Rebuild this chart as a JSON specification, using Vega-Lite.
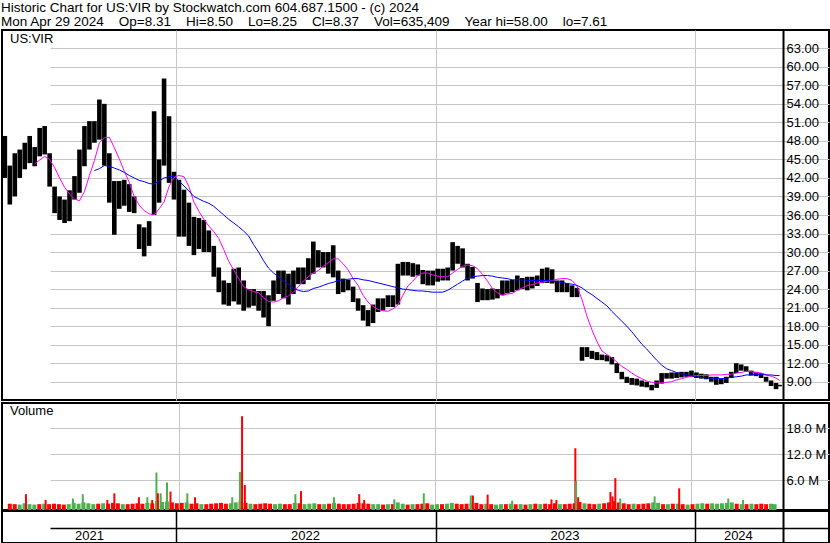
{
  "$schema": "https://vega.github.io/schema/vega-lite/v6.json",
  "background": "white",
  "padding": {"left": 1, "top": 1, "right": 1, "bottom": 0},
  "title": {
    "text": ["Historic Chart for US:VIR by Stockwatch.com 604.687.1500 - (c) 2024", "Mon Apr 29 2024\u00a0\u00a0\u00a0\u00a0Op=8.31\u00a0\u00a0\u00a0\u00a0Hi=8.50\u00a0\u00a0\u00a0\u00a0Lo=8.25\u00a0\u00a0\u00a0\u00a0Cl=8.37\u00a0\u00a0\u00a0\u00a0Vol=635,409\u00a0\u00a0\u00a0\u00a0Year hi=58.00\u00a0\u00a0\u00a0\u00a0lo=7.61"],
    "anchor": "start", "frame": "bounds", "font": "Liberation Sans", "fontSize": 13.5, "fontWeight": "normal", "lineHeight": 13.5, "offset": 1, "color": "#000"
  },
  "config": {
    "view": {"stroke": "#000", "strokeWidth": 2},
    "font": "Liberation Sans",
    "axis": {"labelFont": "Liberation Sans", "labelFontSize": 13, "labelColor": "#000", "gridColor": "#c6c6c6", "gridWidth": 1, "title": null, "labelOverlap": false},
    "title": {"font": "Liberation Sans", "fontWeight": "normal", "color": "#000"}
  },
  "datasets": {
    "px": [
      {"d":"2021-05-05","h":48.8,"l":42,"v":0.6,"s":"d"},
      {"d":"2021-05-12","h":44,"l":37.7,"v":0.5,"s":"d"},
      {"d":"2021-05-19","h":46,"l":39,"v":0.4,"s":"u"},
      {"d":"2021-05-26","h":46.6,"l":42,"v":0.7,"s":"u"},
      {"d":"2021-06-02","h":47.7,"l":43.4,"v":0.5,"s":"u"},
      {"d":"2021-06-09","h":48.8,"l":44.4,"v":0.4,"s":"u"},
      {"d":"2021-06-16","h":47,"l":43.9,"m":44.3,"v":0.5,"s":"d"},
      {"d":"2021-06-23","h":50.1,"l":45.5,"m":44.9,"v":0.6,"s":"u"},
      {"d":"2021-06-30","h":50.4,"l":45.8,"m":45.5,"v":0.5,"s":"d"},
      {"d":"2021-07-07","h":46,"l":40.6,"m":45.0,"v":0.6,"s":"d"},
      {"d":"2021-07-14","h":40.6,"l":36.3,"m":43.7,"v":0.5,"s":"d"},
      {"d":"2021-07-21","h":39,"l":35.2,"m":42.0,"v":0.4,"s":"d"},
      {"d":"2021-07-28","h":38.5,"l":34.7,"m":40.5,"v":0.5,"s":"u"},
      {"d":"2021-08-04","h":40,"l":35,"m":39.4,"v":0.8,"s":"u"},
      {"d":"2021-08-11","h":42.3,"l":38.5,"m":38.6,"v":0.6,"s":"u"},
      {"d":"2021-08-18","h":46.6,"l":39.6,"m":38.3,"v":0.9,"s":"u"},
      {"d":"2021-08-25","h":50.4,"l":43.9,"m":39.8,"v":0.7,"s":"u"},
      {"d":"2021-09-01","h":51.2,"l":46.6,"m":42.4,"v":0.5,"s":"u"},
      {"d":"2021-09-08","h":51.2,"l":47.7,"m":44.8,"b":43.2,"v":0.6,"s":"d"},
      {"d":"2021-09-15","h":54.7,"l":48.2,"m":47.7,"b":43.5,"v":0.7,"s":"u"},
      {"d":"2021-09-22","h":54,"l":44,"m":48.5,"b":44,"v":0.6,"s":"d"},
      {"d":"2021-09-29","h":46,"l":38,"m":48.6,"b":43.9,"v":0.8,"s":"d"},
      {"d":"2021-10-06","h":41.5,"l":32.8,"m":46.9,"b":43.6,"v":0.7,"s":"d"},
      {"d":"2021-10-13","h":41.5,"l":37,"m":45.1,"b":43.3,"v":0.5,"s":"u"},
      {"d":"2021-10-20","h":41.7,"l":37.5,"m":43.1,"b":42.9,"v":0.5,"s":"d"},
      {"d":"2021-10-27","h":41,"l":36.5,"m":41.3,"b":42.4,"v":0.6,"s":"d"},
      {"d":"2021-11-03","h":39,"l":36.3,"m":39,"b":42,"v":0.7,"s":"d"},
      {"d":"2021-11-10","h":34.5,"l":30.5,"m":37.6,"b":41.6,"v":0.6,"s":"d"},
      {"d":"2021-11-17","h":34,"l":29.3,"m":36.7,"b":41.4,"v":0.8,"s":"u"},
      {"d":"2021-11-24","h":35,"l":31,"m":36.2,"b":41.1,"v":0.7,"s":"d"},
      {"d":"2021-12-01","h":52.8,"l":36,"m":36.0,"b":41.0,"v":1.2,"s":"u"},
      {"d":"2021-12-08","h":45,"l":38,"m":37.0,"b":41.5,"v":1.0,"s":"u"},
      {"d":"2021-12-15","h":58.1,"l":44,"m":38.1,"b":42,"v":1.1,"s":"u"},
      {"d":"2021-12-22","h":52,"l":41.2,"m":40.6,"b":42.2,"v":0.9,"s":"d"},
      {"d":"2021-12-29","h":43,"l":38.5,"m":42.1,"b":42.3,"v":0.7,"s":"d"},
      {"d":"2022-01-05","h":41.7,"l":32.5,"m":42.4,"b":41.5,"v":0.8,"s":"d"},
      {"d":"2022-01-12","h":40.1,"l":32.5,"m":42.2,"b":40.7,"v":0.9,"s":"u"},
      {"d":"2022-01-19","h":38,"l":31,"m":40.6,"b":39.9,"v":0.6,"s":"d"},
      {"d":"2022-01-26","h":35.7,"l":29.5,"m":38.1,"b":39.0,"v":0.7,"s":"d"},
      {"d":"2022-02-02","h":35.5,"l":30.5,"m":36.6,"b":38.6,"v":0.5,"s":"u"},
      {"d":"2022-02-09","h":35.2,"l":30,"m":35.3,"b":38.2,"v":0.5,"s":"d"},
      {"d":"2022-02-16","h":33.5,"l":30,"m":34.2,"b":37.9,"v":0.6,"s":"d"},
      {"d":"2022-02-23","h":31,"l":26,"m":33.3,"b":37.4,"v":0.7,"s":"d"},
      {"d":"2022-03-02","h":27.5,"l":23.5,"m":32.2,"b":36.7,"v":0.8,"s":"d"},
      {"d":"2022-03-09","h":25.4,"l":21.5,"m":30.4,"b":36.0,"v":0.6,"s":"d"},
      {"d":"2022-03-16","h":25,"l":21.3,"m":28.5,"b":35.3,"v":0.7,"s":"u"},
      {"d":"2022-03-23","h":27.3,"l":22,"m":27.1,"b":34.7,"v":0.9,"s":"u"},
      {"d":"2022-03-30","h":27.5,"l":21.5,"m":25.7,"b":34.1,"v":1.2,"s":"d"},
      {"d":"2022-04-06","h":25.4,"l":20.5,"m":24.4,"b":33.4,"v":0.8,"s":"d"},
      {"d":"2022-04-13","h":24,"l":21,"m":23.9,"b":32.6,"v":0.6,"s":"u"},
      {"d":"2022-04-20","h":24,"l":21.3,"m":23.6,"b":31.2,"v":0.5,"s":"d"},
      {"d":"2022-04-27","h":23.7,"l":20.5,"m":23.4,"b":30.0,"v":0.6,"s":"d"},
      {"d":"2022-05-04","h":23.7,"l":19.4,"m":22.6,"b":28.6,"v":0.7,"s":"d"},
      {"d":"2022-05-11","h":23,"l":18,"m":22.0,"b":27.4,"v":0.6,"s":"d"},
      {"d":"2022-05-18","h":25.4,"l":22.1,"m":21.9,"b":26.6,"v":0.5,"s":"u"},
      {"d":"2022-05-25","h":27,"l":23.2,"m":22.1,"b":26.0,"v":0.6,"s":"u"},
      {"d":"2022-06-01","h":27,"l":22.5,"m":22.6,"b":25.3,"v":0.5,"s":"d"},
      {"d":"2022-06-08","h":26.5,"l":21.5,"m":22.9,"b":24.8,"v":0.5,"s":"d"},
      {"d":"2022-06-15","h":27,"l":23.2,"m":23.5,"b":24.1,"v":0.8,"s":"u"},
      {"d":"2022-06-22","h":27.5,"l":24.8,"m":24.4,"b":23.8,"v":0.7,"s":"d"},
      {"d":"2022-06-29","h":27.5,"l":24.8,"m":25.3,"b":23.6,"v":0.5,"s":"u"},
      {"d":"2022-07-06","h":29,"l":25.5,"m":26.0,"b":23.7,"v":0.6,"s":"u"},
      {"d":"2022-07-13","h":31.7,"l":26.5,"m":26.6,"b":24.1,"v":0.7,"s":"u"},
      {"d":"2022-07-20","h":30.3,"l":27.5,"m":27.0,"b":24.3,"v":0.5,"s":"d"},
      {"d":"2022-07-27","h":30,"l":27.5,"m":27.7,"b":24.6,"v":0.5,"s":"u"},
      {"d":"2022-08-03","h":30,"l":26.5,"m":28.3,"b":24.9,"v":0.6,"s":"d"},
      {"d":"2022-08-10","h":31.1,"l":25.9,"m":28.9,"b":25.1,"v":0.8,"s":"u"},
      {"d":"2022-08-17","h":27,"l":23.2,"m":28.9,"b":25.4,"v":0.6,"s":"d"},
      {"d":"2022-08-24","h":25.7,"l":23.5,"m":28.1,"b":25.5,"v":0.5,"s":"d"},
      {"d":"2022-08-31","h":25.5,"l":23.8,"m":27.1,"b":25.6,"v":0.5,"s":"d"},
      {"d":"2022-09-07","h":24.4,"l":21.9,"m":25.7,"b":25.7,"v":0.6,"s":"d"},
      {"d":"2022-09-14","h":22.5,"l":20.5,"m":24.6,"b":25.7,"v":0.8,"s":"d"},
      {"d":"2022-09-21","h":21.4,"l":18.9,"m":23.0,"b":25.5,"v":0.7,"s":"d"},
      {"d":"2022-09-28","h":20.6,"l":18,"m":21.9,"b":25.4,"v":0.6,"s":"d"},
      {"d":"2022-10-05","h":21.5,"l":18.5,"m":21.2,"b":25.2,"v":0.5,"s":"u"},
      {"d":"2022-10-12","h":22.5,"l":20.3,"m":20.7,"b":25.0,"v":0.5,"s":"u"},
      {"d":"2022-10-19","h":22.5,"l":20.5,"m":20.5,"b":24.8,"v":0.4,"s":"d"},
      {"d":"2022-10-26","h":23,"l":21.1,"m":20.4,"b":24.6,"v":0.5,"s":"u"},
      {"d":"2022-11-02","h":23,"l":21.1,"m":20.8,"b":24.4,"v":0.5,"s":"d"},
      {"d":"2022-11-09","h":28.1,"l":21.5,"m":21.4,"b":24.2,"v":0.9,"s":"u"},
      {"d":"2022-11-16","h":28.4,"l":26.2,"m":23.0,"b":24.0,"v":0.6,"s":"u"},
      {"d":"2022-11-23","h":28.4,"l":26.2,"m":24.5,"b":23.9,"v":0.4,"s":"d"},
      {"d":"2022-11-30","h":28.2,"l":26,"m":25.3,"b":23.8,"v":0.5,"s":"u"},
      {"d":"2022-12-07","h":28,"l":26.2,"m":26.2,"b":23.7,"v":0.5,"s":"d"},
      {"d":"2022-12-14","h":27.1,"l":24.8,"m":26.6,"b":23.7,"v":0.6,"s":"d"},
      {"d":"2022-12-21","h":27,"l":24.6,"m":26.6,"b":23.6,"v":0.7,"s":"d"},
      {"d":"2022-12-28","h":27,"l":24.6,"m":26.3,"b":23.5,"v":0.4,"s":"u"},
      {"d":"2023-01-04","h":27.3,"l":25.2,"m":26.1,"b":23.5,"v":0.5,"s":"u"},
      {"d":"2023-01-11","h":27.3,"l":25.4,"m":26.0,"b":23.5,"v":0.5,"s":"d"},
      {"d":"2023-01-18","h":27.5,"l":25.4,"m":26.0,"b":23.8,"v":0.6,"s":"u"},
      {"d":"2023-01-25","h":31.6,"l":27,"m":26.6,"b":24.3,"v":0.8,"s":"u"},
      {"d":"2023-02-01","h":31,"l":28.1,"m":27.2,"b":24.8,"v":0.6,"s":"d"},
      {"d":"2023-02-08","h":30.6,"l":27.5,"m":27.7,"b":25.3,"v":0.5,"s":"d"},
      {"d":"2023-02-15","h":28.1,"l":25.4,"m":27.9,"b":25.8,"v":0.6,"s":"d"},
      {"d":"2023-02-22","h":27.6,"l":25.7,"m":27.8,"b":26.0,"v":0.7,"s":"u"},
      {"d":"2023-03-01","h":25,"l":21.9,"m":27.3,"b":26.1,"v":0.8,"s":"d"},
      {"d":"2023-03-08","h":24.1,"l":22.2,"m":26.4,"b":26.2,"v":0.5,"s":"d"},
      {"d":"2023-03-15","h":24,"l":22.2,"m":25.3,"b":26.2,"v":0.6,"s":"u"},
      {"d":"2023-03-22","h":24.1,"l":22.3,"m":24.1,"b":26.1,"v":0.5,"s":"d"},
      {"d":"2023-03-29","h":24,"l":22.5,"m":23.4,"b":25.9,"v":0.4,"s":"u"},
      {"d":"2023-04-05","h":25.4,"l":23,"m":23.0,"b":25.8,"v":0.5,"s":"u"},
      {"d":"2023-04-12","h":25.4,"l":23.3,"m":23.2,"b":25.7,"v":0.5,"s":"d"},
      {"d":"2023-04-19","h":25.5,"l":23.5,"m":23.3,"b":25.5,"v":0.6,"s":"u"},
      {"d":"2023-04-26","h":26.2,"l":23.8,"m":23.8,"b":25.5,"v":0.5,"s":"d"},
      {"d":"2023-05-03","h":25.8,"l":24,"m":24.2,"b":25.5,"v":0.5,"s":"u"},
      {"d":"2023-05-10","h":26,"l":23.8,"m":24.6,"b":25.4,"v":0.4,"s":"d"},
      {"d":"2023-05-17","h":26,"l":24.1,"m":24.7,"b":25.4,"v":0.5,"s":"u"},
      {"d":"2023-05-24","h":26.2,"l":24.5,"m":25.0,"b":25.4,"v":0.6,"s":"d"},
      {"d":"2023-05-31","h":27.3,"l":25,"m":25.1,"b":25.4,"v":0.5,"s":"u"},
      {"d":"2023-06-07","h":27.5,"l":25,"m":25.3,"b":25.4,"v":0.6,"s":"d"},
      {"d":"2023-06-14","h":27.2,"l":24.9,"m":25.4,"b":25.3,"v":0.5,"s":"d"},
      {"d":"2023-06-21","h":25.4,"l":23.5,"m":25.6,"b":25.2,"v":0.7,"s":"d"},
      {"d":"2023-06-28","h":25.4,"l":23.5,"m":25.7,"b":25.1,"v":0.5,"s":"u"},
      {"d":"2023-07-05","h":25,"l":23.5,"m":25.7,"b":24.9,"v":0.5,"s":"d"},
      {"d":"2023-07-12","h":24.6,"l":22.7,"m":25.4,"b":24.8,"v":0.6,"s":"d"},
      {"d":"2023-07-19","h":24.2,"l":22.7,"m":24.5,"b":24.6,"v":0.7,"s":"d"},
      {"d":"2023-07-26","h":14.6,"l":12.4,"m":22.3,"b":24.2,"v":1.0,"s":"d"},
      {"d":"2023-08-02","h":14.6,"l":13,"m":19.6,"b":23.6,"v":0.7,"s":"u"},
      {"d":"2023-08-09","h":14,"l":12.7,"m":17.4,"b":23.1,"v":0.6,"s":"d"},
      {"d":"2023-08-16","h":13.8,"l":12.5,"m":15.5,"b":22.5,"v":0.5,"s":"d"},
      {"d":"2023-08-23","h":13.4,"l":12.5,"m":14.0,"b":21.9,"v":0.6,"s":"u"},
      {"d":"2023-08-30","h":13.3,"l":12.3,"m":13.4,"b":21.3,"v":0.7,"s":"d"},
      {"d":"2023-09-06","h":13,"l":11.8,"m":12.9,"b":20.4,"v":0.9,"s":"d"},
      {"d":"2023-09-13","h":12,"l":10.4,"m":12.2,"b":19.6,"v":1.2,"s":"d"},
      {"d":"2023-09-20","h":10.6,"l":9.4,"m":11.5,"b":18.8,"v":0.9,"s":"d"},
      {"d":"2023-09-27","h":9.8,"l":8.8,"m":11.0,"b":18.0,"v":0.7,"s":"d"},
      {"d":"2023-10-04","h":9.6,"l":8.5,"m":10.4,"b":17.1,"v":0.5,"s":"d"},
      {"d":"2023-10-11","h":9.5,"l":8.4,"m":9.9,"b":16.1,"v":0.6,"s":"u"},
      {"d":"2023-10-18","h":9.2,"l":8.2,"m":9.5,"b":15.1,"v":0.5,"s":"d"},
      {"d":"2023-10-25","h":9,"l":8.1,"m":9.1,"b":14.3,"v":0.6,"s":"d"},
      {"d":"2023-11-01","h":8.5,"l":7.61,"m":8.9,"b":13.4,"v":0.7,"s":"d"},
      {"d":"2023-11-08","h":9.2,"l":8.0,"m":8.8,"b":12.5,"v":0.9,"s":"u"},
      {"d":"2023-11-15","h":10.4,"l":8.7,"m":8.8,"b":11.7,"v":0.8,"s":"u"},
      {"d":"2023-11-22","h":10.4,"l":9.5,"m":8.9,"b":11.1,"v":0.5,"s":"d"},
      {"d":"2023-11-29","h":10.5,"l":9.5,"m":9.0,"b":10.8,"v":0.5,"s":"u"},
      {"d":"2023-12-06","h":10.5,"l":9.6,"m":9.3,"b":10.5,"v":0.6,"s":"d"},
      {"d":"2023-12-13","h":10.6,"l":9.7,"m":9.5,"b":10.3,"v":0.6,"s":"u"},
      {"d":"2023-12-20","h":10.6,"l":9.8,"m":9.7,"b":10.1,"v":0.5,"s":"d"},
      {"d":"2023-12-27","h":10.8,"l":9.8,"m":9.9,"b":10.0,"v":0.4,"s":"u"},
      {"d":"2024-01-03","h":10.5,"l":9.6,"m":10.0,"b":9.8,"v":0.5,"s":"d"},
      {"d":"2024-01-10","h":10.3,"l":9.5,"m":10.0,"b":9.7,"v":0.6,"s":"u"},
      {"d":"2024-01-17","h":10.2,"l":9.4,"m":10.0,"b":9.6,"v":0.7,"s":"u"},
      {"d":"2024-01-24","h":9.8,"l":9.0,"m":10.1,"b":9.6,"v":0.6,"s":"d"},
      {"d":"2024-01-31","h":9.8,"l":8.5,"m":10.1,"b":9.5,"v":0.7,"s":"u"},
      {"d":"2024-02-07","h":9.5,"l":8.6,"m":10.1,"b":9.5,"v":0.6,"s":"u"},
      {"d":"2024-02-14","h":9.8,"l":8.8,"m":10.2,"b":9.6,"v":0.7,"s":"u"},
      {"d":"2024-02-21","h":10.6,"l":9.6,"m":10.2,"b":9.7,"v":0.8,"s":"u"},
      {"d":"2024-02-28","h":12,"l":10.4,"m":10.4,"b":9.8,"v":0.9,"s":"u"},
      {"d":"2024-03-06","h":11.8,"l":10.8,"m":10.5,"b":9.9,"v":0.6,"s":"d"},
      {"d":"2024-03-13","h":11.5,"l":10.6,"m":10.7,"b":10.1,"v":0.5,"s":"u"},
      {"d":"2024-03-20","h":10.8,"l":10,"m":10.6,"b":10.1,"v":0.5,"s":"d"},
      {"d":"2024-03-27","h":10.6,"l":9.9,"m":10.5,"b":10.2,"v":0.6,"s":"u"},
      {"d":"2024-04-03","h":10.4,"l":9.6,"m":10.4,"b":10.2,"v":0.5,"s":"d"},
      {"d":"2024-04-10","h":9.8,"l":9.0,"m":10.1,"b":10.1,"v":0.6,"s":"d"},
      {"d":"2024-04-17","h":9.2,"l":8.3,"m":9.9,"b":10.1,"v":0.5,"s":"d"},
      {"d":"2024-04-24","h":8.8,"l":7.8,"m":9.6,"b":10.0,"v":0.6,"s":"u"},
      {"d":"2024-04-29","h":8.5,"l":8.25,"m":9.2,"b":10.0,"v":0.5,"s":"u"}
    ],
    "vs": [
      {"d":"2021-05-28","v":2.8,"s":"d"},
      {"d":"2021-06-25","v":1.45,"s":"d"},
      {"d":"2021-08-03","v":1.8,"s":"u"},
      {"d":"2021-08-17","v":2.8,"s":"u"},
      {"d":"2021-09-21","v":1.45,"s":"d"},
      {"d":"2021-10-01","v":3.0,"s":"d"},
      {"d":"2021-11-05","v":2.1,"s":"d"},
      {"d":"2021-11-17","v":2.1,"s":"u"},
      {"d":"2021-11-24","v":1.45,"s":"d"},
      {"d":"2021-11-30","v":7.8,"s":"u"},
      {"d":"2021-12-02","v":3.0,"s":"d"},
      {"d":"2021-12-06","v":3.0,"s":"u"},
      {"d":"2021-12-15","v":5.5,"s":"u"},
      {"d":"2021-12-20","v":3.4,"s":"d"},
      {"d":"2022-01-13","v":3.0,"s":"u"},
      {"d":"2022-01-24","v":2.1,"s":"d"},
      {"d":"2022-03-18","v":2.1,"s":"u"},
      {"d":"2022-03-29","v":7.9,"s":"u"},
      {"d":"2022-04-01","v":20.8,"s":"d"},
      {"d":"2022-04-05","v":4.9,"s":"d"},
      {"d":"2022-06-16","v":2.8,"s":"u"},
      {"d":"2022-06-24","v":3.5,"s":"d"},
      {"d":"2022-08-10","v":2.1,"s":"u"},
      {"d":"2022-09-15","v":2.8,"s":"d"},
      {"d":"2022-09-22","v":1.45,"s":"d"},
      {"d":"2022-11-04","v":1.6,"s":"u"},
      {"d":"2022-12-16","v":3.0,"s":"u"},
      {"d":"2023-02-21","v":2.5,"s":"u"},
      {"d":"2023-02-24","v":2.5,"s":"d"},
      {"d":"2023-03-17","v":2.7,"s":"d"},
      {"d":"2023-04-21","v":1.3,"s":"u"},
      {"d":"2023-06-16","v":1.6,"s":"d"},
      {"d":"2023-06-23","v":1.45,"s":"d"},
      {"d":"2023-07-20","v":13.4,"s":"d"},
      {"d":"2023-07-21","v":5.8,"s":"u"},
      {"d":"2023-07-24","v":2.1,"s":"d"},
      {"d":"2023-09-08","v":3.3,"s":"d"},
      {"d":"2023-09-11","v":2.3,"s":"d"},
      {"d":"2023-09-15","v":6.5,"s":"d"},
      {"d":"2023-09-22","v":1.8,"s":"u"},
      {"d":"2023-11-10","v":2.3,"s":"u"},
      {"d":"2023-12-15","v":4.15,"s":"d"},
      {"d":"2024-02-23","v":1.8,"s":"u"},
      {"d":"2024-03-15","v":1.45,"s":"u"}
    ],
    "yr": [
      {"d":"2021-09-01","t":"2021"},
      {"d":"2022-07-02","t":"2022"},
      {"d":"2023-07-02","t":"2023"},
      {"d":"2024-03-02","t":"2024"}
    ]
  },
  "spacing": 1,
  "resolve": {"scale": {"x": "independent", "y": "independent"}},
  "vconcat": [
    {
      "width": 827,
      "height": 370,
      "title": {"text": "US:VIR", "anchor": "start", "frame": "group", "offset": -16, "dx": 8, "fontSize": 13},
      "data": {"name": "px"},
      "layer": [
        {
          "mark": {"type": "rule", "strokeWidth": 4.6, "color": "#000"},
          "encoding": {
            "x": {"field": "d", "type": "temporal",
              "scale": {"type": "utc", "domain": [{"year": 2021, "month": 5, "date": 1, "utc": true}, {"year": 2024, "month": 5, "date": 1, "utc": true}], "range": [0, 779]},
              "axis": {"values": [{"year": 2022, "month": 1, "date": 1, "utc": true}, {"year": 2023, "month": 1, "date": 1, "utc": true}, {"year": 2024, "month": 1, "date": 1, "utc": true}], "grid": true, "labels": false, "ticks": false, "domain": false, "minExtent": 0, "maxExtent": 0}},
            "y": {"field": "h", "type": "quantitative",
              "scale": {"domain": [6.04, 65.96], "nice": false, "zero": false},
              "axis": {"orient": "right", "offset": -46, "values": [9, 12, 15, 18, 21, 24, 27, 30, 33, 36, 39, 42, 45, 48, 51, 54, 57, 60, 63], "format": ".2f", "labelOverlap": false, "grid": true, "ticks": false, "domain": true, "domainColor": "#000", "domainWidth": 2, "labelPadding": 3}},
            "y2": {"field": "l"}
          }
        },
        {
          "mark": {"type": "line", "color": "#ff00ff", "strokeWidth": 1},
          "encoding": {
            "x": {"field": "d", "type": "temporal",
              "axis": {"values": [{"year": 2022, "month": 1, "date": 1, "utc": true}, {"year": 2023, "month": 1, "date": 1, "utc": true}, {"year": 2024, "month": 1, "date": 1, "utc": true}], "grid": true, "labels": false, "ticks": false, "domain": false, "minExtent": 0, "maxExtent": 0}},
            "y": {"field": "m", "type": "quantitative",
              "axis": {"orient": "right", "offset": -46, "values": [9, 12, 15, 18, 21, 24, 27, 30, 33, 36, 39, 42, 45, 48, 51, 54, 57, 60, 63], "format": ".2f", "labelOverlap": false, "grid": true, "ticks": false, "domain": true, "domainColor": "#000", "domainWidth": 2, "labelPadding": 3}}
          }
        },
        {
          "mark": {"type": "line", "color": "#0000ff", "strokeWidth": 1},
          "encoding": {
            "x": {"field": "d", "type": "temporal",
              "axis": {"values": [{"year": 2022, "month": 1, "date": 1, "utc": true}, {"year": 2023, "month": 1, "date": 1, "utc": true}, {"year": 2024, "month": 1, "date": 1, "utc": true}], "grid": true, "labels": false, "ticks": false, "domain": false, "minExtent": 0, "maxExtent": 0}},
            "y": {"field": "b", "type": "quantitative",
              "axis": {"orient": "right", "offset": -46, "values": [9, 12, 15, 18, 21, 24, 27, 30, 33, 36, 39, 42, 45, 48, 51, 54, 57, 60, 63], "format": ".2f", "labelOverlap": false, "grid": true, "ticks": false, "domain": true, "domainColor": "#000", "domainWidth": 2, "labelPadding": 3}}
          }
        }
      ]
    },
    {
      "spacing": -2,
      "resolve": {"scale": {"x": "independent", "y": "independent"}},
      "vconcat": [
        {
          "width": 827,
          "height": 107,
          "title": {"text": "Volume", "anchor": "start", "frame": "group", "offset": -15, "dx": 8, "fontSize": 13},
          "layer": [
            {
              "data": {"name": "px"},
              "mark": {"type": "bar", "width": 4},
              "encoding": {
                "x": {"field": "d", "type": "temporal",
                  "scale": {"type": "utc", "domain": [{"year": 2021, "month": 5, "date": 1, "utc": true}, {"year": 2024, "month": 5, "date": 1, "utc": true}], "range": [0, 779]},
                  "axis": {"values": [{"year": 2022, "month": 1, "date": 1, "utc": true}, {"year": 2023, "month": 1, "date": 1, "utc": true}, {"year": 2024, "month": 1, "date": 1, "utc": true}], "grid": true, "labels": false, "ticks": false, "domain": false, "minExtent": 0, "maxExtent": 0}},
                "y": {"field": "v", "type": "quantitative",
                  "scale": {"domain": [-0.85, 23.84], "nice": false, "zero": false},
                  "axis": {"orient": "right", "offset": -46, "values": [6, 12, 18], "labelExpr": "format(datum.value, '.1f') + ' M'", "labelOverlap": false, "grid": true, "ticks": false, "domain": true, "domainColor": "#000", "domainWidth": 2, "labelPadding": 3}},
                "y2": {"datum": -0.85},
                "color": {"field": "s", "type": "nominal", "scale": {"domain": ["u", "d"], "range": ["#4caf50", "#ff0000"]}, "legend": null}
              }
            },
            {
              "data": {"name": "vs"},
              "mark": {"type": "bar", "width": 2},
              "encoding": {
                "x": {"field": "d", "type": "temporal",
                  "axis": {"values": [{"year": 2022, "month": 1, "date": 1, "utc": true}, {"year": 2023, "month": 1, "date": 1, "utc": true}, {"year": 2024, "month": 1, "date": 1, "utc": true}], "grid": true, "labels": false, "ticks": false, "domain": false, "minExtent": 0, "maxExtent": 0}},
                "y": {"field": "v", "type": "quantitative",
                  "axis": {"orient": "right", "offset": -46, "values": [6, 12, 18], "labelExpr": "format(datum.value, '.1f') + ' M'", "labelOverlap": false, "grid": true, "ticks": false, "domain": true, "domainColor": "#000", "domainWidth": 2, "labelPadding": 3}},
                "y2": {"datum": -0.85},
                "color": {"field": "s", "type": "nominal", "legend": null}
              }
            }
          ]
        },
        {
          "width": 827,
          "height": 32,
          "data": {"name": "yr"},
          "mark": {"type": "text", "fontSize": 13, "font": "Liberation Sans", "color": "#000", "align": "center", "baseline": "middle"},
          "encoding": {
            "x": {"field": "d", "type": "temporal",
              "scale": {"type": "utc", "domain": [{"year": 2021, "month": 5, "date": 1, "utc": true}, {"year": 2024, "month": 5, "date": 1, "utc": true}], "range": [0, 779]},
              "axis": {"values": [{"year": 2022, "month": 1, "date": 1, "utc": true}, {"year": 2023, "month": 1, "date": 1, "utc": true}, {"year": 2024, "month": 1, "date": 1, "utc": true}], "grid": true, "gridColor": "#000", "gridWidth": 1.5, "labels": false, "ticks": false, "domain": false, "minExtent": 0, "maxExtent": 0}},
            "y": {"datum": 7.5, "type": "quantitative",
              "scale": {"domain": [0, 32], "nice": false, "zero": false},
              "axis": {"orient": "right", "offset": -46, "values": [15], "grid": true, "gridColor": "#000", "gridWidth": 1.5, "labels": false, "ticks": false, "domain": true, "domainColor": "#000", "domainWidth": 2}},
            "text": {"field": "t"}
          }
        }
      ]
    }
  ]
}
